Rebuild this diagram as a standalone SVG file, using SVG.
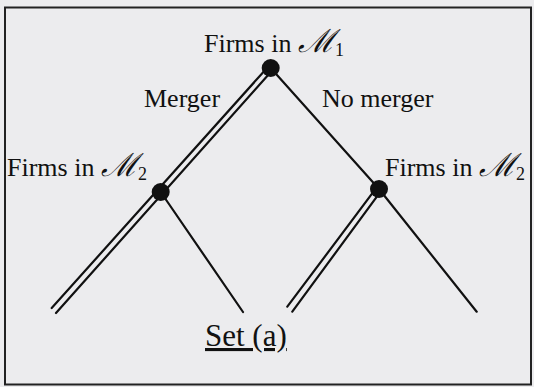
<svg xmlns="http://www.w3.org/2000/svg" width="534" height="387" viewBox="0 0 534 387">
<style>
.t{font-family:"Liberation Serif","Times New Roman",serif;font-size:26px;fill:#111}
.m{font-family:"DejaVu Serif","Liberation Serif",serif;font-style:italic;font-size:32px}
.s{font-size:18px}
.e{stroke:#111;stroke-width:2.2;fill:none;stroke-linecap:round}
.n{fill:#111}
</style>
<rect x="0" y="0" width="534" height="387" fill="#ececee"/>
<rect x="5" y="7.5" width="526" height="377" fill="none" stroke="#222" stroke-width="2"/>
<g id="connectors">
  <line class="e" x1="268.6" y1="66.2" x2="51.7" y2="308"/>
  <line class="e" x1="272.8" y1="69.8" x2="56" y2="313"/>
  <line class="e" x1="270.7" y1="68" x2="379" y2="189"/>
  <line class="e" x1="160.7" y1="192" x2="243" y2="312"/>
  <line class="e" x1="376.9" y1="187.2" x2="287.3" y2="306.7"/>
  <line class="e" x1="381.1" y1="190.8" x2="292.3" y2="311.7"/>
  <line class="e" x1="379" y1="189" x2="476.7" y2="311.7"/>
</g>
<g id="root">
  <circle class="n" cx="270.7" cy="68" r="9"/>
  <text class="t" x="204" y="52">Firms in <tspan class="m">ℳ</tspan><tspan class="s" dy="4">1</tspan></text>
</g>
<g id="node-merger">
  <circle class="n" cx="160.7" cy="192" r="9"/>
  <text class="t" x="7" y="176">Firms in <tspan class="m">ℳ</tspan><tspan class="s" dy="4">2</tspan></text>
</g>
<g id="node-nomerger">
  <circle class="n" cx="379" cy="189" r="9"/>
  <text class="t" x="385" y="176">Firms in <tspan class="m">ℳ</tspan><tspan class="s" dy="4">2</tspan></text>
</g>
<g id="labels">
  <text class="t" x="144" y="107">Merger</text>
  <text class="t" x="322" y="107">No merger</text>
  <text class="t" x="205" y="346" style="font-size:31px" text-decoration="underline">Set (a)</text>
</g>
</svg>
